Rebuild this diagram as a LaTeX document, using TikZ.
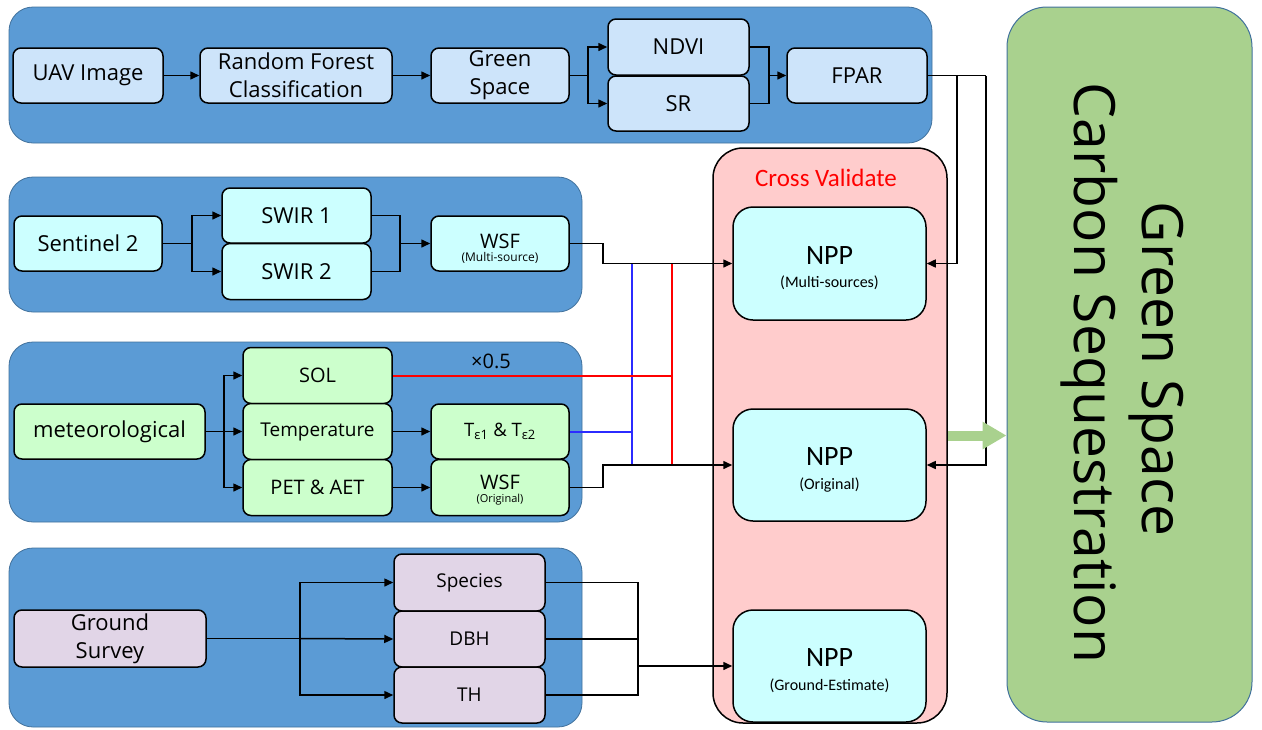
\documentclass[tikz,border=0pt]{standalone}
\usepackage{fontspec}
\setmainfont{Open Sans}
\newfontfamily\nppfont{Carlito}
\usetikzlibrary{arrows.meta,calc}
\definecolor{grpblue}{HTML}{5B9BD5}
\definecolor{grpedge}{HTML}{41719C}
\definecolor{topbox}{HTML}{CDE4FA}
\definecolor{cyanbox}{HTML}{CCFFFF}
\definecolor{metbox}{HTML}{CCFFCC}
\definecolor{lavbox}{HTML}{E1D5E7}
\definecolor{pinkbg}{HTML}{FFCCCC}
\definecolor{bigreen}{HTML}{A9D18E}
\definecolor{lineblue}{HTML}{2B2BFF}
\tikzset{
  grp/.style={draw=grpedge, fill=grpblue, line width=0.8pt, rounded corners=24pt, inner sep=0pt},
  bx/.style={draw=black, line width=1.5pt, rounded corners=8pt, inner sep=0pt, align=center,
    font=\fontsize{22}{28}\selectfont},
  mid/.style={font=\fontsize{20}{24}\selectfont},
  small/.style={font=\fontsize{19}{23}\selectfont},
  sz/.style 2 args={minimum width=#1pt, minimum height=#2pt},
  arr/.style={-{Triangle[length=9pt,width=8pt]}, line width=1.5pt},
  ln/.style={line width=1.5pt},
  nppbox/.style={draw=black, line width=1.5pt, rounded corners=20pt, fill=cyanbox, inner sep=0pt},
}
\begin{document}
\begin{tikzpicture}[x=1pt,y=-1pt]
\useasboundingbox (0,0) rectangle (1262,729);
% groups
\node[grp, sz={923}{136}] (grp1) at (470.5,75) {};
\node[grp, sz={573}{135}] (grp2) at (295.5,244.5) {};
\node[grp, sz={573}{180}] (grp3) at (295.5,432) {};
\node[grp, sz={573}{179}] (grp4) at (295.5,637.5) {};
% cross validate column
\node[draw=black, line width=1.5pt, fill=pinkbg, rounded corners=30pt, sz={234}{575}] (cvbox) at (830,435.5) {};
\node[text=red, font=\nppfont\fontsize{25}{28}\selectfont] (cvt) at (826,178) {Cross Validate};
% big green box
\node[draw=grpedge, line width=1pt, fill=bigreen, rounded corners=40pt, sz={245}{715}] (gbox) at (1129.5,364.5) {};
\node[rotate=-90, anchor=base, font=\fontsize{57}{64}\selectfont] (gtxt1) at (1142,369) {Green Space};
\node[rotate=-90, anchor=base, font=\fontsize{57}{64}\selectfont] (gtxt2) at (1074,373) {Carbon Sequestration};

% top row
\node[bx, fill=topbox, sz={150}{55}] (uav) at (88,75.5) {UAV Image};
\node[bx, fill=topbox, sz={192}{55}] (rf) at (296,75.5) {Random Forest\\Classification};
\node[bx, fill=topbox, sz={138}{55}] (gs) at (500,75.5) {Green\\Space};
\node[bx, fill=topbox, sz={141}{56}] (ndvi) at (678.5,47) {NDVI};
\node[bx, fill=topbox, sz={141}{55}] (sr) at (678.5,103.5) {SR};
\node[bx, fill=topbox, sz={140}{55}] (fpar) at (857,75.5) {FPAR};

% sentinel row
\node[bx, fill=cyanbox, sz={148}{55}] (sen) at (88,243.5) {Sentinel 2};
\node[bx, fill=cyanbox, sz={149}{55}] (swir1) at (296.5,215.5) {SWIR 1};
\node[bx, fill=cyanbox, sz={149}{56}] (swir2) at (296.5,271.5) {SWIR 2};
\node[bx, fill=cyanbox, sz={138}{55}] (wsfm) at (500,243.5) {};
\node[anchor=base, mid] (wsfmt) at (500,248) {WSF};
\node[anchor=base, font=\fontsize{12}{14}\selectfont] (wsfms) at (500,261) {(Multi-source)};

% meteorological row
\node[bx, fill=metbox, sz={191}{55}] (met) at (109.5,431.5) {meteorological};
\node[bx, fill=metbox, sz={149}{56}, mid] (sol) at (317.5,375.5) {SOL};
\node[bx, fill=metbox, sz={149}{56}, small] (temp) at (317.5,431.5) {Temperature};
\node[bx, fill=metbox, sz={149}{56}, mid] (pet) at (317.5,487.5) {PET \& AET};
\node[bx, fill=metbox, sz={138}{55}, font=\fontsize{18.5}{22}\selectfont] (teps) at (500,431.5) {T\textsubscript{ε1} \& T\textsubscript{ε2}};
\node[bx, fill=metbox, sz={138}{56}] (wsfo) at (500,487.5) {};
\node[anchor=base, mid] (wsfot) at (500,489) {WSF};
\node[anchor=base, font=\fontsize{11}{13}\selectfont] (wsfos) at (500,502) {(Original)};
\node[mid] (half) at (491,361) {×0.5};

% ground row
\node[bx, fill=lavbox, sz={192}{57}] (gsv) at (110,638.5) {Ground\\Survey};
\node[bx, fill=lavbox, sz={151}{57}, small] (species) at (469.5,582.5) {Species};
\node[bx, fill=lavbox, sz={151}{56}, small] (dbh) at (469.5,639) {DBH};
\node[bx, fill=lavbox, sz={151}{56}, small] (th) at (469.5,695) {TH};

% NPP boxes
\node[nppbox, sz={193}{113}] (npp1) at (829.5,263.5) {};
\node[nppbox, sz={193}{112}] (npp2) at (829.5,465) {};
\node[nppbox, sz={193}{112}] (npp3) at (829.5,666) {};
\foreach \n/\s in {npp1/(Multi-sources), npp2/(Original), npp3/(Ground-Estimate)}{
  \node[anchor=base, font=\nppfont\fontsize{28}{30}\selectfont] at ($(\n.center)+(0,0.5)$) {NPP};
  \node[anchor=base, font=\nppfont\fontsize{16}{18}\selectfont] at ($(\n.center)+(0,24)$) {\s};
}

% coordinates
\coordinate (t1) at (588,75.5);
\coordinate (t2) at (769,75.5);
\coordinate (f1) at (957,75.5);
\coordinate (f2) at (986,75.5);
\coordinate (s1) at (192,243.5);
\coordinate (s2) at (400,243.5);
\coordinate (w1) at (603,243.5);
\coordinate (w2) at (603,487.5);
\coordinate (m1) at (224,431.5);
\coordinate (b1) at (632,263.5);
\coordinate (b2) at (632,465);
\coordinate (r1) at (672,263.5);
\coordinate (r2) at (672,465);
\coordinate (g1) at (300,638.5);
\coordinate (g2) at (638,666);

% top row connectors
\draw[arr] (uav) -- (rf);
\draw[arr] (rf) -- (gs);
\draw[ln] (gs.east) -- (t1);
\draw[arr] (t1) |- (ndvi.west);
\draw[arr] (t1) |- (sr.west);
\draw[ln] (ndvi.east) -| (t2);
\draw[ln] (sr.east) -| (t2);
\draw[arr] (t2) -- (fpar.west);
\draw[ln] (fpar.east) -- (f2);
\draw[arr] (f1) |- (npp1.east);
\draw[arr] (f2) |- (npp2.east);

% sentinel connectors
\draw[ln] (sen.east) -- (s1);
\draw[arr] (s1) |- (swir1.west);
\draw[arr] (s1) |- (swir2.west);
\draw[ln] (swir1.east) -| (s2);
\draw[ln] (swir2.east) -| (s2);
\draw[arr] (s2) -- (wsfm.west);

% meteorological connectors
\draw[ln] (met.east) -- (m1);
\draw[arr] (m1) |- (sol.west);
\draw[arr] (m1) -- (temp.west);
\draw[arr] (m1) |- (pet.west);
\draw[arr] (temp.east) -- (teps.west);
\draw[arr] (pet.east) -- (wsfo.west);

% blue and red lines
\draw[lineblue, line width=2pt] (b1) -- (b2);
\draw[lineblue, line width=2pt] (teps.east) -- (b2 |- teps.east);
\draw[red, line width=2pt] (r1) -- (r2);
\draw[red, line width=2pt] (sol.east) -- (r1 |- sol.east);

% WSF to NPP
\draw[arr] (wsfm.east) -- (w1) |- (npp1.west);
\draw[arr] (wsfo.east) -- (w2) |- (npp2.west);

% ground connectors
\draw[ln] (gsv.east) -- (g1);
\draw[arr] (g1) |- (species.west);
\draw[arr] (g1) -- (dbh.west);
\draw[arr] (g1) |- (th.west);
\draw[ln] (species.east) -| (g2);
\draw[ln] (dbh.east) -- (g2 |- dbh.east);
\draw[ln] (th.east) -| (g2);
\draw[arr] (g2) -- (npp3.west);

% result arrow
\draw[bigreen, line width=10pt, -{Triangle[length=24pt,width=26pt]}] (cvbox.east) -- (gbox.west |- cvbox.east);
\end{tikzpicture}
\end{document}
